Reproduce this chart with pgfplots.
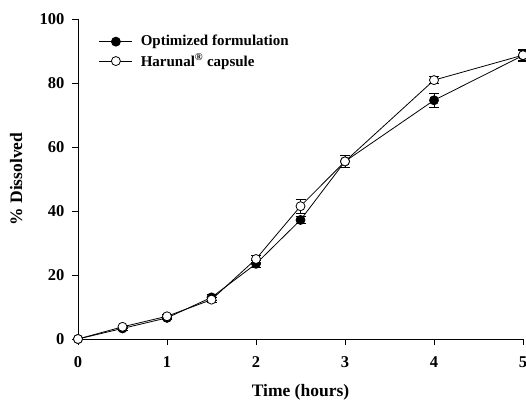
\documentclass[border=0pt]{standalone}
\usepackage{fontspec}
\setmainfont{Liberation Serif}
\usepackage{pgfplots}
\pgfplotsset{compat=1.18}
\begin{document}
\fontsize{13.5}{16}\selectfont\bfseries
\begin{tikzpicture}
\begin{axis}[
  scale only axis, width=445pt, height=320pt,
  anchor=south west, at={(0,0)},
  xmin=0, xmax=5, ymin=0, ymax=100,
  axis x line*=bottom, axis y line*=left,
  axis line style={line width=0.8pt},
  xtick={0,1,2,3,4,5}, ytick={0,20,40,60,80,100},
  tick align=outside, major tick length=6pt,
  tick style={line width=0.8pt, black},
  /pgf/number format/assume math mode=true,
  tick label style={font=\fontsize{16.5}{19}\selectfont\bfseries},
  xticklabel style={yshift=-7pt},
  yticklabel style={xshift=-3pt},
  xlabel={Time (hours)}, ylabel={\% Dissolved},
  xlabel style={font=\fontsize{17.5}{20}\selectfont\bfseries, yshift=-7pt},
  ylabel style={font=\fontsize{17.5}{20}\selectfont\bfseries, yshift=8pt},
  clip=false,
  legend style={draw=none, fill=none, at={(0.04,0.962)}, anchor=north west,
    font=\fontsize{15}{17}\selectfont\bfseries, row sep=2pt},
  legend cell align=left,
  legend image code/.code={\draw[mark repeat=2,mark phase=2] plot coordinates {(0pt,0pt)(16.5pt,0pt)(33pt,0pt)};\path (39pt,0pt);},
  every axis plot/.append style={line width=0.8pt},
]
\addplot[black, mark=*, mark size=4.5pt, mark options={fill=black},
  error bars/.cd, y dir=both, y explicit,
  error mark options={rotate=90, mark size=5pt, line width=0.8pt},
  error bar style={line width=0.8pt}]
  coordinates {
  (0,0) +- (0,0)
  (0.5,3.3) +- (0,0.5)
  (1,6.6) +- (0,0.6)
  (1.5,13.0) +- (0,1.0)
  (2,23.5) +- (0,1.0)
  (2.5,37.2) +- (0,1.0)
  (3,55.5) +- (0,2.0)
  (4,74.6) +- (0,2.2)
  (5,88.6) +- (0,1.5)
  };
\addlegendentry{Optimized formulation}
\addplot[black, mark=*, mark size=4.5pt, mark options={fill=white},
  error bars/.cd, y dir=both, y explicit,
  error mark options={rotate=90, mark size=5pt, line width=0.8pt},
  error bar style={line width=0.8pt}]
  coordinates {
  (0,0) +- (0,0)
  (0.5,3.8) +- (0,0.5)
  (1,7.1) +- (0,0.6)
  (1.5,12.3) +- (0,0.8)
  (2,25.0) +- (0,1.0)
  (2.5,41.5) +- (0,2.2)
  (3,55.5) +- (0,2.0)
  (4,80.9) +- (0,1.1)
  (5,88.7) +- (0,1.8)
  };
\addlegendentry{Harunal\textsuperscript{\textregistered} capsule}
\end{axis}
\pgfresetboundingbox
\useasboundingbox (-78pt,-62pt) rectangle (448pt,339pt);
\end{tikzpicture}
\end{document}
